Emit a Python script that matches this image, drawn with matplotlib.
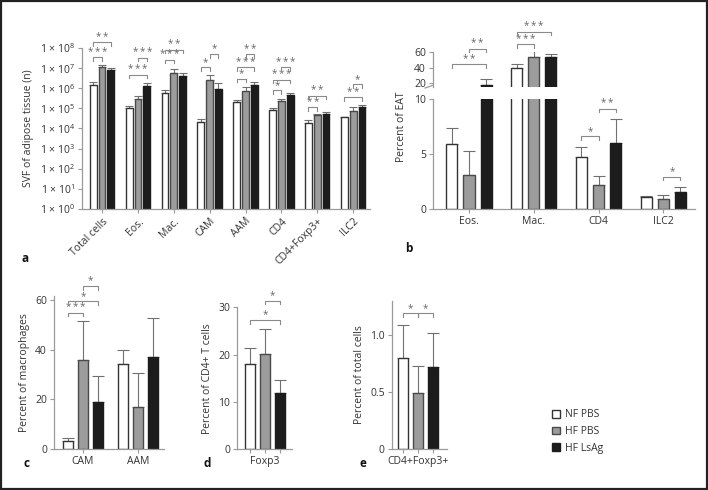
import numpy as np
import matplotlib
matplotlib.use("Agg")
import matplotlib.pyplot as plt
from matplotlib.patches import Patch, Rectangle

plt.rcParams["font.family"] = ["Open Sans", "DejaVu Sans"]
plt.rcParams["mathtext.default"] = "regular"

W, H = 708, 490
groups = ["NF PBS", "HF PBS", "HF LsAg"]
faces = ["#ffffff", "#9c9c9c", "#1c1c1c"]
edges = ["#333333", "#4a4a4a", "#1c1c1c"]
AX_COL = "#9a9a9a"
TXT_COL = "#333333"
ERR_COL = "#707070"

# panel a: cell counts (log scale)
a_cats = ["Total cells", "Eos.", "Mac.", "CAM", "AAM", "CD4", "CD4+Foxp3+", "ILC2"]
a_nf = [1.5e6, 1.0e5, 6.0e5, 2.0e4, 2.1e5, 8.0e4, 1.8e4, 3.7e4]
a_nf_err = [0.6e6, 3e4, 2.3e5, 1e4, 5e4, 2e4, 8e3, 2e3]
a_hf = [1.1e7, 2.8e5, 6.0e6, 2.5e6, 7.6e5, 2.2e5, 4.6e4, 7.8e4]
a_hf_err = [3e6, 1.4e5, 3.3e6, 2e6, 3.5e5, 6e4, 8e3, 3.7e4]
a_ls = [8e6, 1.3e6, 4.3e6, 9.5e5, 1.4e6, 4.7e5, 5.5e4, 1.2e5]
a_ls_err = [2e6, 5.5e5, 1.7e6, 8.5e5, 6e5, 1e5, 9e3, 2.5e4]
a_sig = [(0, 0, 1, 3.5e7, "***"), (0, 0, 2, 1.9e8, "**"),
         (1, 0, 2, 4.7e6, "***"), (1, 1, 2, 3.2e7, "***"),
         (2, 0, 1, 2.6e7, "***"), (2, 0, 2, 8.1e7, "**"),
         (3, 0, 1, 1.1e7, "*"), (3, 1, 2, 5e7, "*"),
         (4, 0, 1, 2.9e6, "*"), (4, 0, 2, 1.1e7, "***"), (4, 1, 2, 5e7, "**"),
         (5, 0, 1, 8e5, "*"), (5, 0, 2, 2.6e6, "***"), (5, 1, 2, 1.1e7, "***"),
         (6, 0, 1, 1.15e5, "**"), (6, 0, 2, 4.2e5, "**"),
         (7, 0, 2, 3.5e5, "**"), (7, 1, 2, 1.6e6, "*")]

# panel b: percent of EAT (broken axis)
b_cats = ["Eos.", "Mac.", "CD4", "ILC2"]
b_nf = [5.9, 39.4, 4.75, 1.12]
b_nf_err = [1.45, 5.1, 0.9, 0.08]
b_hf = [3.1, 54.3, 2.2, 0.91]
b_hf_err = [2.2, 7.4, 0.77, 0.36]
b_ls = [18.0, 54.0, 6.06, 1.55]
b_ls_err = [8.0, 3.4, 2.18, 0.45]
b_sig_top = [(0, 0, 2, 44.5, "**"), (0, 1, 2, 64.6, "**"),
             (1, 0, 1, 70.3, "***"), (1, 0, 2, 86.2, "***")]
b_sig_bot = [(2, 0, 1, 6.64, "*"), (2, 1, 2, 9.15, "**"), (3, 1, 2, 2.94, "*")]

# panel c: percent of macrophages
c_cats = ["CAM", "AAM"]
c_nf = [3.2, 34.1]
c_nf_err = [1.1, 5.9]
c_hf = [36.0, 16.9]
c_hf_err = [15.7, 13.6]
c_ls = [19.0, 37.0]
c_ls_err = [10.3, 15.9]
c_sig = [(0, 0, 1, 54.9, "***"), (0, 0, 2, 59.4, "*"), (0, 1, 2, 65.6, "*")]

# panel d: percent of CD4+ T cells
d_cats = ["Foxp3"]
d_nf = [18.0]
d_nf_err = [3.3]
d_hf = [20.1]
d_hf_err = [5.3]
d_ls = [12.0]
d_ls_err = [2.7]
d_sig = [(0, 0, 2, 27.3, "*"), (0, 1, 2, 31.4, "*")]

# panel e: percent of total cells
e_cats = ["CD4+Foxp3+"]
e_nf = [0.80]
e_nf_err = [0.29]
e_hf = [0.49]
e_hf_err = [0.24]
e_ls = [0.72]
e_ls_err = [0.30]
e_sig = [(0, 0, 1, 1.19, "*"), (0, 1, 2, 1.19, "*")]

fig = plt.figure(figsize=(W / 100, H / 100), dpi=100)


def px_axes(left, top, right, bottom):
    return fig.add_axes([left / W, 1 - bottom / H, (right - left) / W, (bottom - top) / H])


def style(ax, labelsize=7.5):
    for side in ["top", "right"]:
        ax.spines[side].set_visible(False)
    for side in ["left", "bottom"]:
        ax.spines[side].set_color(AX_COL)
        ax.spines[side].set_linewidth(0.9)
    ax.tick_params(length=3, width=0.8, color=AX_COL, labelcolor=TXT_COL, labelsize=labelsize, pad=2)


def draw_bars(ax, cats, series, errs, width, offset, capsize=3.5):
    x = np.arange(len(cats))
    for k, (vals, err) in enumerate(zip(series, errs)):
        xs = x + (k - 1) * offset
        ax.bar(xs, vals, width=width, color=faces[k], edgecolor=edges[k], linewidth=1.0, zorder=2)
        ax.errorbar(xs, vals, yerr=[np.zeros(len(vals)), err], fmt="none", ecolor=ERR_COL,
                    elinewidth=0.8, capsize=capsize, capthick=0.8, zorder=1)
    ax.set_xticks(x)
    return x


def brackets(ax, sig, offset, drop=3.5, fs=7):
    for cat, i, j, level, label in sig:
        x1 = cat + (i - 1) * offset
        x2 = cat + (j - 1) * offset
        _, ypix = ax.transData.transform((0, level))
        _, ylow = ax.transData.inverted().transform((0, ypix - drop))
        ax.plot([x1, x1, x2, x2], [ylow, level, level, ylow], color="#8a8a8a", lw=0.8,
                clip_on=False, zorder=3)
        _, ytxt = ax.transData.inverted().transform((0, ypix - 0.5))
        ax.text((x1 + x2) / 2, ytxt, "\u2009".join(label), ha="center", va="bottom", fontsize=fs,
                color="#666666", clip_on=False)


# ---- panel a ----
ax = px_axes(82, 48, 370, 209)
ax.set_yscale("log")
ax.set_ylim(1, 1e8)
ax.set_xlim(-0.56, 7.47)
style(ax)
draw_bars(ax, a_cats, [a_nf, a_hf, a_ls], [a_nf_err, a_hf_err, a_ls_err], 0.19, 0.245, capsize=3)
ax.set_xticklabels(a_cats, rotation=45, ha="right", rotation_mode="anchor")
ax.set_yticks([10.0 ** p for p in range(9)])
ax.set_yticklabels([r"1 × 10$^{%d}$" % p for p in range(9)])
ax.minorticks_off()
ax.set_ylabel("SVF of adipose tissue (n)", fontsize=7.5, color=TXT_COL, labelpad=4)
brackets(ax, a_sig, 0.245)
fig.text(22 / W, 1 - 259 / H, "a", fontsize=8.5, fontweight="bold", color="#111111", va="center")

# ---- panel b (broken y axis) ----
ax_b = px_axes(433, 99.3, 695, 209)
ax_t = px_axes(433, 52.3, 695, 87.3)
for a_, lim in [(ax_b, (0, 10)), (ax_t, (15, 60))]:
    a_.set_ylim(*lim)
    a_.set_xlim(-0.556, 3.49)
    style(a_)
    draw_bars(a_, b_cats, [b_nf, b_hf, b_ls], [b_nf_err, b_hf_err, b_ls_err], 0.17, 0.263, capsize=4)
ax_b.set_yticks([0, 5, 10])
ax_b.set_xticklabels(b_cats)
ax_t.set_yticks([20, 40, 60])
ax_t.spines["bottom"].set_visible(False)
ax_t.tick_params(axis="x", bottom=False, labelbottom=False)
ax_t.plot([-0.03, 0.0], [-0.02, 0.06], transform=ax_t.transAxes, color=AX_COL, lw=0.9, clip_on=False)
ax_b.set_ylabel("Percent of EAT", fontsize=7.5, color=TXT_COL, labelpad=4)
ax_b.yaxis.set_label_coords(-0.1, 0.75)
brackets(ax_t, b_sig_top, 0.263)
brackets(ax_b, b_sig_bot, 0.263)
fig.text(405 / W, 1 - 248 / H, "b", fontsize=8.5, fontweight="bold", color="#111111", va="center")

# ---- panel c ----
ax = px_axes(54, 296, 164, 449)
ax.set_ylim(0, 61.6)
ax.set_xlim(-0.527, 1.47)
style(ax)
draw_bars(ax, c_cats, [c_nf, c_hf, c_ls], [c_nf_err, c_hf_err, c_ls_err], 0.18, 0.27, capsize=4)
ax.set_xticklabels(c_cats)
ax.set_yticks([0, 20, 40, 60])
ax.set_ylabel("Percent of macrophages", fontsize=7.5, color=TXT_COL, labelpad=4)
brackets(ax, c_sig, 0.27)
fig.text(23 / W, 1 - 463 / H, "c", fontsize=8.5, fontweight="bold", color="#111111", va="center")

# ---- panel d ----
ax = px_axes(237, 307.3, 292, 449.3)
ax.set_ylim(0, 30)
ax.set_xlim(-0.51, 0.49)
style(ax)
draw_bars(ax, d_cats, [d_nf, d_hf, d_ls], [d_nf_err, d_hf_err, d_ls_err], 0.19, 0.27, capsize=4)
ax.set_xticks([-0.27, 0, 0.27])
ax.set_xticklabels(["", d_cats[0], ""])
ax.set_yticks([0, 10, 20, 30])
ax.set_ylabel("Percent of CD4+ T cells", fontsize=7.5, color=TXT_COL, labelpad=4)
brackets(ax, d_sig, 0.27)
fig.text(203 / W, 1 - 463 / H, "d", fontsize=8.5, fontweight="bold", color="#111111", va="center")

# ---- panel e ----
ax = px_axes(391.7, 300.7, 447, 449.3)
ax.set_ylim(0, 1.3)
ax.set_xlim(-0.48, 0.53)
style(ax)
draw_bars(ax, e_cats, [e_nf, e_hf, e_ls], [e_nf_err, e_hf_err, e_ls_err], 0.19, 0.27, capsize=4)
ax.set_xticks([-0.27, 0, 0.27])
ax.set_xticklabels(["", e_cats[0], ""])
ax.set_yticks([0, 0.5, 1.0])
ax.set_yticklabels(["0", "0.5", "1.0"])
ax.set_ylabel("Percent of total cells", fontsize=7.5, color=TXT_COL, labelpad=4)
brackets(ax, e_sig, 0.27)
fig.text(359 / W, 1 - 463 / H, "e", fontsize=8.5, fontweight="bold", color="#111111", va="center")

# legend
handles = [Patch(facecolor=faces[k], edgecolor=edges[k], linewidth=1.0) for k in range(3)]
fig.legend(handles, groups, loc="upper left", bbox_to_anchor=(543 / W, 1 - 400 / H), frameon=False,
           fontsize=7.5, handlelength=0.75, handleheight=0.75, handletextpad=0.5, labelspacing=0.55,
           labelcolor=TXT_COL)

fig.patches.append(Rectangle((0.0015, 0.002), 0.997, 0.996, transform=fig.transFigure, fill=False,
                             edgecolor="#222222", linewidth=1.6))

fig.savefig("out.png", dpi=100)
